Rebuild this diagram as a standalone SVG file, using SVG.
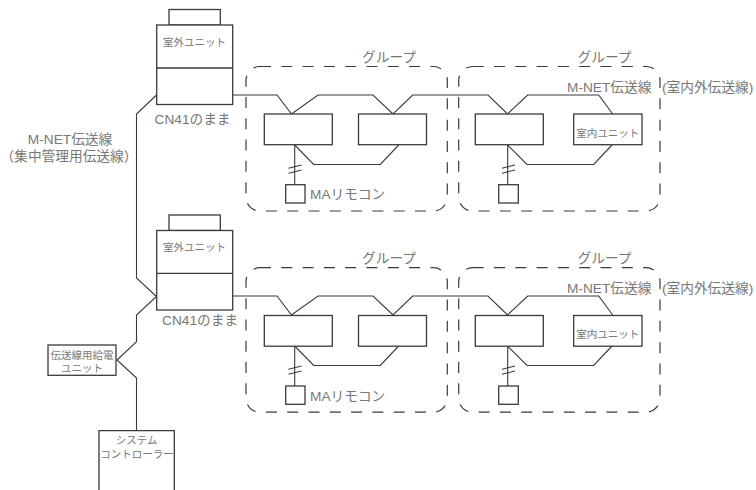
<svg xmlns="http://www.w3.org/2000/svg" width="756" height="490" viewBox="0 0 756 490">
<style>
.n{fill:#fff;stroke:#3a3a3a;stroke-width:1.3}
.w{fill:none;stroke:#3a3a3a;stroke-width:1.1;stroke-linejoin:miter}
.g{fill:none;stroke:#3a3a3a;stroke-width:1.2;stroke-dasharray:11 10.3}
text{font-family:"Liberation Sans","Noto Sans CJK JP",sans-serif;fill:#777;font-size:13.7px}
.t{font-family:"Noto Sans CJK JP","Noto Sans",sans-serif;font-size:10.5px;text-anchor:middle}
.m{text-anchor:middle}
</style>
<defs>
<g id="slash"><path class="w" d="M-6.5 3.3L6.5 0M-6.5 8.3L6.5 5"/></g>
</defs>
<g id="connectors">
<path class="w" d="M156.5 95L136.5 114V278L156.5 296.5L136.5 315V341.7L117 360L136.5 378V431"/>
<path class="w" d="M232.5 95H277L291.5 114L318 95H373L393 114L412.7 95H488L507.5 114L527.7 95H598.7L612.7 114"/>
<path class="w" d="M294.7 145L313.7 164.5H380.3L398.7 145M507.5 145L527 164.5H593.7L612 145"/>
<path class="w" d="M294.7 145V185M507.7 145V185"/>
<use href="#slash" x="295" y="165"/>
<use href="#slash" x="508.5" y="165"/>
<path class="w" d="M232.5 296H277L291.5 315L318 296H373L393 315L412.7 296H488L507.5 315L527.7 296H598.7L612.7 315"/>
<path class="w" d="M294.7 346L313.7 365.5H380.3L398.7 346M507.5 346L527 365.5H593.7L612 346"/>
<path class="w" d="M294.7 346V386M507.7 346V386"/>
<use href="#slash" x="295" y="366"/>
<use href="#slash" x="508.5" y="366"/>
</g>
<g id="group1"><rect class="g" x="246" y="66.5" width="201.3" height="144.5" rx="14"/><text x="362" y="62">グループ</text></g>
<g id="group2"><rect class="g" x="458.7" y="66.5" width="201.3" height="144.5" rx="14"/><text x="577.5" y="62">グループ</text></g>
<g id="group3"><rect class="g" x="246" y="267.7" width="201.3" height="144.5" rx="14"/><text x="362" y="263">グループ</text></g>
<g id="group4"><rect class="g" x="458.7" y="267.7" width="201.3" height="144.5" rx="14"/><text x="577.5" y="263">グループ</text></g>
<g id="outdoor1"><rect class="n" x="169" y="9.5" width="51.3" height="15.5"/><rect class="n" x="156.7" y="25" width="76" height="79.5"/><path class="n" d="M156.7 68H232.7"/><text class="t" x="194.5" y="45.5">室外ユニット</text></g>
<g id="outdoor2"><rect class="n" x="169" y="215" width="51.3" height="15.5"/><rect class="n" x="156.7" y="230.5" width="76" height="79.5"/><path class="n" d="M156.7 273.3H232.7"/><text class="t" x="194.5" y="251">室外ユニット</text></g>
<g id="indoor1"><rect class="n" x="264.3" y="114" width="68" height="30.7"/></g>
<g id="indoor2"><rect class="n" x="358.5" y="114" width="68" height="30.7"/></g>
<g id="indoor3"><rect class="n" x="475.3" y="114" width="68" height="30.7"/></g>
<g id="indoor4"><rect class="n" x="573.7" y="114" width="68.3" height="30.7"/><text class="t" x="607.8" y="137">室内ユニット</text></g>
<g id="indoor5"><rect class="n" x="264.3" y="315.5" width="68" height="30.7"/></g>
<g id="indoor6"><rect class="n" x="358.5" y="315.5" width="68" height="30.7"/></g>
<g id="indoor7"><rect class="n" x="475.3" y="315.5" width="68" height="30.7"/></g>
<g id="indoor8"><rect class="n" x="573.7" y="315.5" width="68.3" height="30.7"/><text class="t" x="607.8" y="338">室内ユニット</text></g>
<g id="remote1"><rect class="n" x="285.7" y="184.7" width="19.3" height="18.3"/><text x="310" y="199">MAリモコン</text></g>
<g id="remote2"><rect class="n" x="498.7" y="184.7" width="19.6" height="18.3"/></g>
<g id="remote3"><rect class="n" x="285.7" y="386" width="19.3" height="18.3"/><text x="310" y="400.5">MAリモコン</text></g>
<g id="remote4"><rect class="n" x="498.7" y="386" width="19.6" height="18.3"/></g>
<g id="power"><rect class="n" x="48" y="345" width="68" height="30.3"/><text class="t"><tspan x="82" y="358.5">伝送線用給電</tspan><tspan x="82" y="372">ユニット</tspan></text></g>
<g id="controller"><path class="n" d="M99 491V430.7H174.3V491"/><text class="t"><tspan x="136.7" y="444">システム</tspan><tspan x="137" y="457.5">コントローラー</tspan></text></g>
<text x="154.5" y="124">CN41のまま</text>
<text x="162" y="325">CN41のまま</text>
<text class="m"><tspan x="70" y="144">M-NET伝送線</tspan><tspan x="69" y="161">（集中管理用伝送線）</tspan></text>
<text x="567" y="91.5">M-NET伝送線</text>
<text x="662" y="91.5">(室内外伝送線)</text>
<text x="567" y="292.5">M-NET伝送線</text>
<text x="662" y="292.5">(室内外伝送線)</text>
</svg>
